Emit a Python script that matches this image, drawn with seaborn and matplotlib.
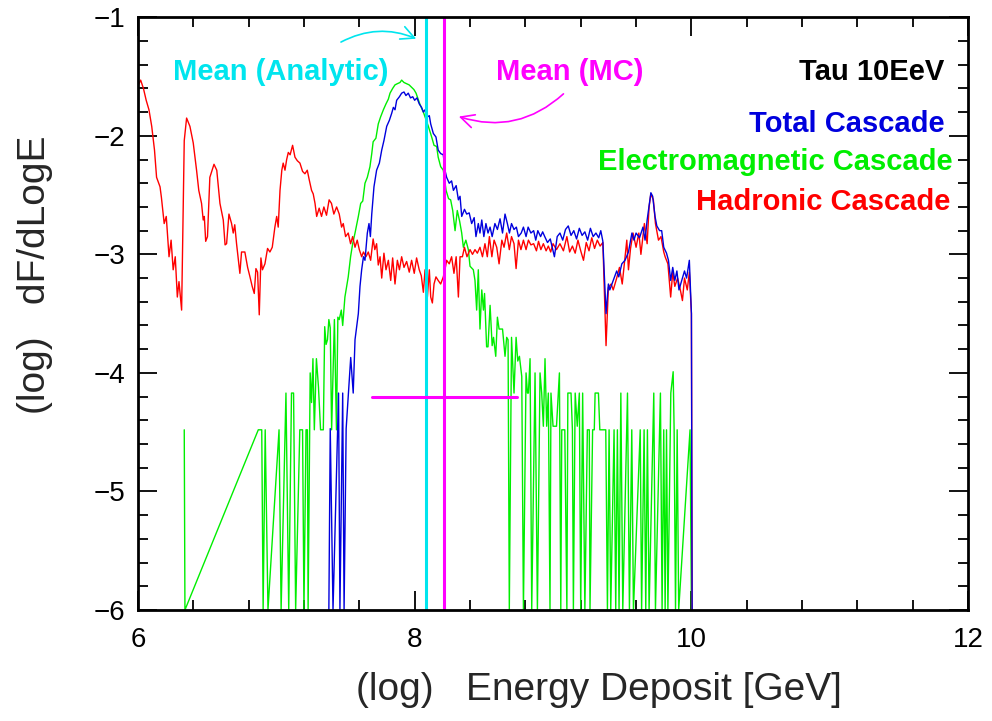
import matplotlib
matplotlib.use("Agg")
import matplotlib.pyplot as plt
import seaborn as sns
import pandas as pd
from matplotlib.ticker import MultipleLocator

# ---------------- data ----------------
red_x = [6.00, 6.02, 6.04, 6.06, 6.08, 6.10, 6.12, 6.135, 6.16, 6.17, 6.19, 6.205, 6.225, 6.24, 6.255, 6.27,
         6.285, 6.297, 6.316, 6.335, 6.352, 6.376, 6.40, 6.424, 6.44, 6.46, 6.472, 6.48, 6.49, 6.503, 6.52,
         6.55, 6.57, 6.593, 6.617, 6.63, 6.641, 6.658, 6.677, 6.689, 6.70, 6.713, 6.737, 6.749, 6.773, 6.793,
         6.81, 6.826, 6.841, 6.853, 6.865, 6.877, 6.889, 6.90, 6.918, 6.937, 6.954, 6.971, 6.99, 7.003, 7.014,
         7.027, 7.04, 7.05, 7.063, 7.075, 7.087, 7.10, 7.118, 7.135, 7.152, 7.171, 7.19, 7.207, 7.224, 7.238,
         7.255, 7.267, 7.28, 7.292, 7.31, 7.327, 7.344, 7.363, 7.382, 7.399, 7.416, 7.436, 7.455, 7.472, 7.484,
         7.501, 7.52, 7.537, 7.552, 7.569, 7.585, 7.60, 7.617, 7.63, 7.648, 7.665, 7.682, 7.70, 7.712, 7.725,
         7.737, 7.75, 7.762, 7.778, 7.793, 7.81, 7.827, 7.841, 7.858, 7.875, 7.89, 7.906, 7.923, 7.942, 7.961,
         7.978, 7.997, 8.014, 8.033, 8.048, 8.063, 8.075, 8.092, 8.106, 8.116, 8.128, 8.14, 8.154, 8.17, 8.188,
         8.207, 8.219, 8.231, 8.25, 8.267, 8.284, 8.30, 8.316, 8.328, 8.345, 8.36, 8.378, 8.40, 8.418, 8.436,
         8.453, 8.472, 8.49, 8.508, 8.525, 8.54, 8.558, 8.574, 8.593, 8.61, 8.63, 8.646, 8.665, 8.684, 8.70,
         8.718, 8.733, 8.75, 8.768, 8.786, 8.805, 8.822, 8.84, 8.86, 8.88, 8.895, 8.912, 8.93, 8.95, 8.966,
         8.983, 9.00, 9.025, 9.05, 9.075, 9.10, 9.12, 9.14, 9.16, 9.18, 9.20, 9.22, 9.24, 9.26, 9.28, 9.30,
         9.32, 9.34, 9.36, 9.383, 9.40, 9.42, 9.435, 9.46, 9.48, 9.50, 9.533, 9.545, 9.56, 9.578, 9.60, 9.62,
         9.635, 9.66, 9.68, 9.694, 9.707, 9.725, 9.74, 9.762, 9.78, 9.80, 9.81, 9.83, 9.85, 9.865, 9.88, 9.90,
         9.92, 9.935, 9.95, 9.97, 9.985, 10.0, 10.005]
red_y = [-1.58, -1.53, -1.60, -1.70, -1.78, -1.92, -2.12, -2.35, -2.43, -2.52, -2.74, -2.68, -3.02, -2.88, -3.13, -3.02,
         -3.36, -3.23, -3.47, -2.04, -1.85, -1.92, -2.06, -2.29, -2.46, -2.57, -2.71, -2.68, -2.89, -2.85, -2.35,
         -2.24, -2.29, -2.57, -2.71, -2.92, -2.91, -2.66, -2.74, -2.82, -2.75, -2.91, -3.16, -2.98, -2.98, -3.11,
         -3.19, -3.27, -3.33, -3.12, -3.15, -3.51, -3.03, -3.13, -3.08, -2.95, -2.98, -2.94, -2.77, -2.68, -2.77,
         -2.46, -2.29, -2.23, -2.29, -2.20, -2.14, -2.16, -2.08, -2.18, -2.21, -2.23, -2.30, -2.32, -2.29, -2.37,
         -2.46, -2.49, -2.57, -2.68, -2.61, -2.68, -2.60, -2.67, -2.54, -2.57, -2.66, -2.60, -2.66, -2.77, -2.74,
         -2.85, -2.82, -2.91, -2.85, -2.94, -2.88, -2.96, -3.02, -2.98, -3.02, -2.98, -3.05, -2.87, -2.96, -2.91,
         -3.09, -3.02, -3.20, -2.99, -3.13, -3.05, -3.22, -3.03, -3.25, -3.05, -3.13, -3.02, -3.11, -3.06, -3.15,
         -3.05, -3.16, -3.03, -3.13, -3.18, -3.32, -3.13, -3.36, -3.13, -3.36, -3.41, -3.25, -3.19, -3.22, -3.25,
         -3.19, -3.13, -3.05, -3.08, -3.02, -3.16, -3.02, -3.36, -3.02, -3.02, -2.94, -3.02, -2.96, -3.00, -2.96,
         -2.99, -2.94, -3.02, -2.91, -3.02, -2.85, -3.02, -2.88, -2.94, -3.08, -2.88, -2.94, -2.82, -2.96, -2.85,
         -2.91, -3.12, -2.88, -2.96, -2.88, -2.96, -2.88, -2.92, -2.91, -2.97, -2.89, -2.96, -2.91, -2.97, -2.93,
         -2.98, -2.91, -2.96, -2.91, -2.97, -2.85, -2.98, -2.93, -2.99, -2.88, -2.97, -3.05, -2.90, -2.97, -2.86, -2.95,
         -2.88, -2.93, -2.90, -3.77, -3.28, -3.25, -3.30, -3.20, -3.11, -3.25, -2.88, -3.13, -2.95, -2.82, -2.94, -2.82,
         -3.00, -2.74, -2.91, -2.60, -2.49, -2.54, -2.74, -2.88, -2.85, -2.98, -3.02, -3.08, -3.36, -3.15, -3.27, -3.20,
         -3.30, -3.39, -3.20, -3.30, -3.15, -3.50, -6.0]

blue_x = [7.38, 7.39, 7.41, 7.45, 7.46, 7.48, 7.49, 7.505, 7.538, 7.556, 7.569, 7.58, 7.593, 7.605, 7.617, 7.63,
          7.641, 7.658, 7.67, 7.68, 7.69, 7.706, 7.725, 7.745, 7.762, 7.778, 7.798, 7.817, 7.834, 7.846, 7.858,
          7.87, 7.89, 7.906, 7.923, 7.937, 7.954, 7.97, 7.986, 8.00, 8.017, 8.033, 8.05, 8.063, 8.075, 8.092,
          8.106, 8.116, 8.135, 8.154, 8.17, 8.188, 8.207, 8.219, 8.231, 8.25, 8.267, 8.28, 8.30, 8.316, 8.328,
          8.34, 8.36, 8.376, 8.394, 8.412, 8.43, 8.443, 8.46, 8.472, 8.485, 8.50, 8.515, 8.53, 8.545, 8.56,
          8.58, 8.598, 8.617, 8.635, 8.653, 8.67, 8.685, 8.70, 8.718, 8.735, 8.75, 8.77, 8.786, 8.805, 8.82,
          8.84, 8.86, 8.875, 8.89, 8.91, 8.925, 8.94, 8.96, 8.98, 9.01, 9.03, 9.05, 9.07, 9.09, 9.11, 9.13,
          9.15, 9.17, 9.19, 9.21, 9.23, 9.25, 9.27, 9.29, 9.31, 9.33, 9.345, 9.36, 9.383, 9.40, 9.41, 9.435,
          9.46, 9.475, 9.497, 9.52, 9.545, 9.57, 9.585, 9.60, 9.625, 9.65, 9.665, 9.68, 9.70, 9.707, 9.72,
          9.737, 9.75, 9.77, 9.785, 9.80, 9.82, 9.834, 9.85, 9.865, 9.88, 9.895, 9.91, 9.93, 9.95, 9.965,
          9.985, 10.0, 10.005]
blue_y = [-6.0, -4.47, -6.0, -4.17, -6.0, -4.17, -6.0, -4.47, -3.87, -4.17, -3.72, -3.62, -3.50, -3.27, -3.13, -3.02,
          -3.05, -2.82, -2.74, -2.85, -2.66, -2.43, -2.29, -2.23, -2.12, -2.04, -1.92, -1.87, -1.81, -1.76, -1.78,
          -1.70, -1.67, -1.64, -1.63, -1.66, -1.64, -1.68, -1.67, -1.70, -1.68, -1.73, -1.76, -1.80, -1.78, -1.84,
          -1.83, -1.90, -1.98, -2.01, -2.12, -2.15, -2.16, -2.29, -2.35, -2.40, -2.38, -2.46, -2.42, -2.54, -2.51,
          -2.68, -2.62, -2.66, -2.65, -2.74, -2.69, -2.85, -2.74, -2.82, -2.71, -2.85, -2.74, -2.82, -2.77, -2.85,
          -2.74, -2.79, -2.70, -2.82, -2.66, -2.74, -2.82, -2.74, -2.79, -2.77, -2.85, -2.82, -2.77, -2.85, -2.77,
          -2.82, -2.80, -2.88, -2.80, -2.85, -2.81, -2.85, -2.90, -2.87, -3.02, -2.85, -2.82, -2.88, -2.79, -2.76, -2.84,
          -2.80, -2.87, -2.78, -2.84, -2.81, -2.88, -2.78, -2.85, -2.82, -2.86, -2.80, -2.89, -3.50, -3.25, -3.30, -3.22,
          -3.14, -3.19, -3.08, -3.05, -2.98, -2.82, -2.88, -2.82, -2.86, -2.77, -2.88, -2.71, -2.54, -2.48, -2.51,
          -2.68, -2.76, -2.80, -2.80, -2.94, -2.99, -3.05, -3.22, -3.11, -3.22, -3.14, -3.30, -3.22, -3.14, -3.20,
          -3.05, -3.50, -6.0]

green_x = [6.335, 6.34, 6.87, 6.895, 6.905, 6.92, 6.94, 7.02, 7.035, 7.07, 7.09, 7.11, 7.125, 7.14, 7.17, 7.19,
           7.20, 7.215, 7.225, 7.23, 7.245, 7.255, 7.265, 7.275, 7.29, 7.305, 7.32, 7.34, 7.35, 7.36, 7.37,
           7.38, 7.39, 7.40, 7.42, 7.435, 7.445, 7.455, 7.47, 7.48, 7.496, 7.52, 7.537, 7.552, 7.569, 7.593,
           7.61, 7.625, 7.641, 7.658, 7.677, 7.69, 7.70, 7.72, 7.737, 7.754, 7.774, 7.793, 7.81, 7.822, 7.841,
           7.858, 7.875, 7.894, 7.906, 7.923, 7.942, 7.96, 7.978, 7.995, 8.01, 8.025, 8.04, 8.063, 8.075, 8.099,
           8.123, 8.14, 8.159, 8.17, 8.188, 8.207, 8.227, 8.245, 8.26, 8.275, 8.292, 8.308, 8.325, 8.34, 8.352,
           8.37, 8.388, 8.40, 8.424, 8.436, 8.448, 8.46, 8.472, 8.485, 8.497, 8.505, 8.52, 8.53, 8.545, 8.56,
           8.57, 8.586, 8.598, 8.61, 8.635, 8.653, 8.665, 8.675, 8.684, 8.70, 8.718, 8.733, 8.745, 8.757, 8.774,
           8.786, 8.805, 8.815, 8.822, 8.834, 8.846, 8.87, 8.887, 8.906, 8.918, 8.93, 8.942, 8.954, 8.966, 8.978,
           8.985, 9.00, 9.01, 9.025, 9.046, 9.056, 9.063, 9.085, 9.10, 9.107, 9.13, 9.14, 9.147, 9.16, 9.175,
           9.19, 9.20, 9.214, 9.23, 9.248, 9.262, 9.267, 9.286, 9.298, 9.304, 9.328, 9.338, 9.381, 9.393, 9.405,
           9.417, 9.441, 9.453, 9.465, 9.477, 9.49, 9.504, 9.538, 9.552, 9.569, 9.581, 9.63, 9.64, 9.658, 9.67,
           9.682, 9.694, 9.728, 9.74, 9.776, 9.788, 9.80, 9.81, 9.82, 9.83, 9.851, 9.868, 9.875, 9.885, 9.897,
           9.908, 9.99, 10.0]
green_y = [-4.48, -6.0, -4.48, -4.48, -6.0, -4.48, -6.0, -4.48, -6.0, -4.17, -6.0, -4.17, -4.17, -6.0, -4.48, -4.48,
           -6.0, -4.48, -4.48, -6.0, -4.0, -4.25, -3.88, -4.48, -3.88, -4.12, -4.48, -4.48, -3.61, -3.76, -3.72,
           -3.55, -3.62, -4.48, -3.55, -4.48, -3.53, -3.55, -3.47, -3.60, -3.36, -3.19, -3.02, -2.91, -2.82, -2.68,
           -2.57, -2.55, -2.40, -2.35, -2.26, -2.15, -2.05, -2.02, -1.90, -1.84, -1.78, -1.73, -1.69, -1.64, -1.60,
           -1.57, -1.56, -1.55, -1.53, -1.55, -1.56, -1.57, -1.59, -1.61, -1.64, -1.69, -1.74, -1.80, -1.84, -1.92,
           -2.01, -2.08, -2.09, -2.18, -2.26, -2.29, -2.46, -2.53, -2.54, -2.63, -2.80, -2.63, -2.72, -2.82, -2.94,
           -2.88, -2.96, -3.10, -3.13, -3.22, -3.47, -3.13, -3.63, -3.30, -3.47, -3.33, -3.78, -3.78, -3.43, -3.77,
           -3.70, -3.86, -3.53, -3.63, -3.63, -3.86, -3.70, -3.72, -6.0, -3.70, -4.17, -3.70, -3.90, -3.86, -4.03,
           -6.0, -4.0, -4.17, -4.17, -3.88, -6.0, -4.0, -6.0, -4.0, -4.17, -4.45, -3.88, -4.45, -4.17, -6.0,
           -4.17, -4.45, -4.45, -4.45, -4.0, -6.0, -4.48, -4.48, -6.0, -4.17, -4.17, -4.48, -6.0, -4.17, -4.45,
           -4.17, -6.0, -4.17, -6.0, -4.48, -4.48, -6.0, -4.48, -4.48, -4.17, -4.17, -4.48, -4.48, -6.0, -4.48,
           -6.0, -4.48, -6.0, -4.48, -6.0, -4.17, -6.0, -4.17, -6.0, -4.48, -6.0, -4.48, -6.0, -4.48, -6.0,
           -4.48, -6.0, -4.17, -6.0, -4.17, -6.0, -4.48, -6.0, -4.48, -6.0, -4.17, -3.99, -4.48, -6.0, -4.48,
           -6.0, -4.48, -6.0]

mean_analytic = 8.082
mean_mc = 8.212
mc_bar_y = -4.20
mc_bar_range = [7.69, 8.74]

legend_labels = ["Tau 10EeV", "Total Cascade", "Electromagnetic Cascade", "Hadronic Cascade"]

# ---------------- plotting ----------------
sns.set_style("ticks")
plt.rcParams["font.family"] = ["Liberation Sans", "DejaVu Sans"]

fig = plt.figure(figsize=(9.92, 7.21), dpi=100)
ax = fig.add_axes([0.139, 0.154, 0.837, 0.822])

df_g = pd.DataFrame({"x": green_x, "y": green_y})
df_r = pd.DataFrame({"x": red_x, "y": red_y})
df_b = pd.DataFrame({"x": blue_x, "y": blue_y})

sns.lineplot(data=df_g, x="x", y="y", ax=ax, color="#00ee00", linewidth=1.0, estimator=None, sort=False)
sns.lineplot(data=df_r, x="x", y="y", ax=ax, color="#ff0000", linewidth=1.0, estimator=None, sort=False)
sns.lineplot(data=df_b, x="x", y="y", ax=ax, color="#0000dd", linewidth=1.0, estimator=None, sort=False)

ax.axvline(mean_analytic, color="#00e5ee", linewidth=2.2)
ax.axvline(mean_mc, color="#ff00ff", linewidth=2.2)
ax.plot(mc_bar_range, [mc_bar_y, mc_bar_y], color="#ff00ff", linewidth=2.2)

ax.set_xlim(6, 12)
ax.set_ylim(-6, -1)
ax.xaxis.set_major_locator(MultipleLocator(2))
ax.xaxis.set_minor_locator(MultipleLocator(0.4))
ax.yaxis.set_major_locator(MultipleLocator(1))
ax.yaxis.set_minor_locator(MultipleLocator(0.2))
ax.tick_params(which="both", direction="in", top=True, right=True, width=1.3, colors="black")
ax.tick_params(which="major", length=14, labelsize=20, pad=9)
ax.tick_params(axis="x", which="major", pad=12)
ax.tick_params(which="minor", length=7)
for s in ax.spines.values():
    s.set_linewidth(2)
    s.set_color("black")

ax.set_xlabel("(log)   Energy Deposit [GeV]", fontsize=28)
ax.set_ylabel("(log)   dF/dLogE", fontsize=28)
ax.xaxis.label.set_va("center")
ax.yaxis.label.set_va("center")
ax.xaxis.set_label_coords(0.555, -0.135)
ax.yaxis.set_label_coords(-0.124, 0.565)

# text annotations
tkw = dict(fontsize=21, fontweight="bold", va="center")
ax.text(7.03, -1.46, "Mean (Analytic)", color="#00e5ee", ha="center", **tkw)
ax.text(9.12, -1.46, "Mean (MC)", color="#ff00ff", ha="center", **tkw)
ax.text(11.83, -1.46, legend_labels[0], color="black", ha="right", **tkw)
ax.text(11.83, -1.90, legend_labels[1], color="#0000dd", ha="right", **tkw)
ax.text(11.89, -2.22, legend_labels[2], color="#00ee00", ha="right", **tkw)
ax.text(11.87, -2.56, legend_labels[3], color="#ff0000", ha="right", **tkw)

# arrows
ax.annotate("", xy=(8.03, -1.19), xytext=(7.45, -1.22),
            arrowprops=dict(arrowstyle="->", color="#00e5ee", lw=1.2,
                            connectionstyle="arc3,rad=-0.25", mutation_scale=24))
ax.annotate("", xy=(8.30, -1.83), xytext=(9.09, -1.63),
            arrowprops=dict(arrowstyle="->", color="#ff00ff", lw=1.2,
                            connectionstyle="arc3,rad=-0.3", mutation_scale=24))

fig.savefig("out.png", dpi=100)
